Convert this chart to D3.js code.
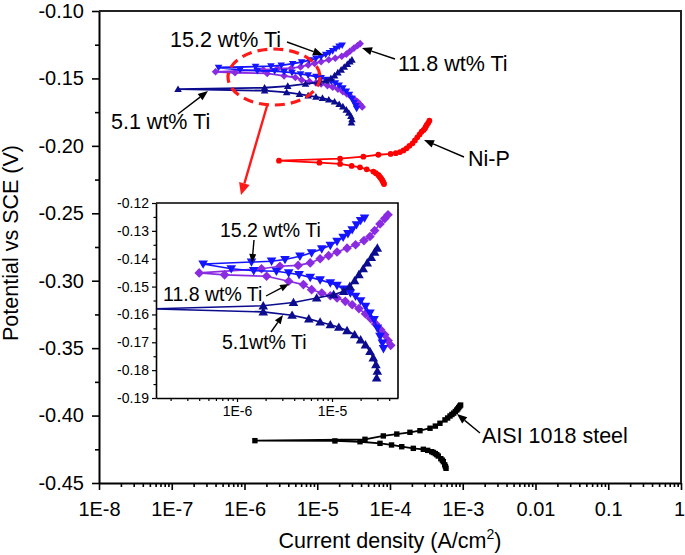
<!DOCTYPE html>
<html><head><meta charset="utf-8">
<script src="https://cdn.jsdelivr.net/npm/d3@7"></script>
<style>
body{margin:0;background:#fff;}
svg{display:block;}
text{font-family:"Liberation Sans",Arial,sans-serif;fill:#000;}
</style>
</head><body>
<svg id="chart" width="685" height="555"></svg>
<script>
// ---------- DATA ----------
// Tick labels
const xTickValues = [1e-8,1e-7,1e-6,1e-5,1e-4,1e-3,0.01,0.1,1];
const xTickLabels = ["1E-8","1E-7","1E-6","1E-5","1E-4","1E-3","0.01","0.1","1"];
const yTickValues = [-0.45,-0.40,-0.35,-0.30,-0.25,-0.20,-0.15,-0.10];
const insetXTickValues = [1e-6,1e-5];
const insetXTickLabels = ["1E-6","1E-5"];
const insetYTickValues = [-0.19,-0.18,-0.17,-0.16,-0.15,-0.14,-0.13,-0.12];

// 5.1 wt% Ti (cathodic end -> Ecorr -> anodic end)
const ti51Current = [2.95e-5,3.00e-5,2.90e-5,2.72e-5,2.51e-5,2.25e-5,2.00e-5,1.73e-5,1.44e-5,1.18e-5,9.6e-6,7.5e-6,5.7e-6,3.8e-6,1.89e-6,
  1.22e-7,
  1.89e-6,3.93e-6,6.9e-6,1.04e-5,1.33e-5,1.54e-5,1.73e-5,1.92e-5,2.13e-5,2.35e-5,2.59e-5,2.81e-5,3.00e-5];
const ti51Potential = [-0.1828,-0.1804,-0.1780,-0.1756,-0.1733,-0.1709,-0.1691,-0.1673,-0.1658,-0.1646,-0.1637,-0.1627,-0.1616,-0.1603,-0.1591,
  -0.1580,
  -0.1569,-0.1557,-0.1541,-0.1529,-0.1517,-0.1499,-0.1479,-0.1457,-0.1436,-0.1415,-0.1395,-0.1376,-0.1362];

// 11.8 wt% Ti
const ti118Current = [4.15e-5,3.89e-5,3.59e-5,3.25e-5,2.88e-5,2.55e-5,2.25e-5,1.92e-5,1.63e-5,1.38e-5,1.13e-5,9.6e-6,7.8e-6,6.1e-6,5.0e-6,3.5e-6,2.05e-6,7.4e-7,
  4.0e-7,
  1.81e-6,2.83e-6,4.4e-6,5.9e-6,7.5e-6,9.2e-6,1.13e-5,1.44e-5,1.77e-5,2.17e-5,2.51e-5,2.81e-5,3.20e-5,3.59e-5,3.89e-5];
const ti118Potential = [-0.1711,-0.1694,-0.1673,-0.1655,-0.1634,-0.1615,-0.1598,-0.1579,-0.1565,-0.1553,-0.1541,-0.1533,-0.1523,-0.1511,-0.1493,-0.1481,-0.1463,-0.1458,
  -0.1451,
  -0.1436,-0.1427,-0.1424,-0.1415,-0.1400,-0.1389,-0.1376,-0.1362,-0.1350,-0.1335,-0.1320,-0.1299,-0.1275,-0.1256,-0.1242];

// 15.2 wt% Ti
const ti152Current = [3.48e-5,3.39e-5,3.20e-5,3.00e-5,2.77e-5,2.51e-5,2.25e-5,2.00e-5,1.77e-5,1.56e-5,1.33e-5,1.13e-5,9.6e-6,7.5e-6,5.9e-6,4.5e-6,3.5e-6,2.6e-6,1.5e-6,8.7e-7,
  4.4e-7,
  1.42e-6,2.31e-6,3.2e-6,4.6e-6,6.1e-6,7.8e-6,9.6e-6,1.13e-5,1.31e-5,1.47e-5,1.63e-5,1.81e-5,2.00e-5,2.20e-5];
const ti152Potential = [-0.1723,-0.1703,-0.1679,-0.1649,-0.1619,-0.1595,-0.1571,-0.1551,-0.1535,-0.1523,-0.1509,-0.1496,-0.1487,-0.1476,-0.1467,-0.1457,-0.1451,-0.1445,-0.1443,-0.1436,
  -0.1419,
  -0.1412,-0.1409,-0.1403,-0.1391,-0.1379,-0.1365,-0.1352,-0.1338,-0.1323,-0.1310,-0.1296,-0.1278,-0.1263,-0.1254];

// Ni-P
const niPCurrent = [8.28e-5,8.15e-5,8.0e-5,7.85e-5,7.69e-5,7.5e-5,7.3e-5,7.1e-5,6.92e-5,6.4e-5,5.90e-5,4.79e-5,3.87e-5,2.97e-5,2.06e-5,1.07e-5,
  2.98e-6,
  2.06e-5,4.30e-5,6.92e-5,1.02e-4,1.2e-4,1.37e-4,1.53e-4,1.69e-4,1.85e-4,2.04e-4,2.2e-4,2.37e-4,2.55e-4,2.72e-4,2.9e-4,3.03e-4,3.1e-4,3.2e-4,3.35e-4,3.48e-4];
const niPPotential = [-0.2283,-0.2274,-0.2265,-0.2256,-0.2248,-0.2240,-0.2232,-0.2224,-0.2216,-0.2203,-0.2191,-0.2174,-0.2159,-0.2149,-0.2134,-0.2125,
  -0.2110,
  -0.2095,-0.2080,-0.2066,-0.2060,-0.2054,-0.2046,-0.2034,-0.2018,-0.2000,-0.1981,-0.1960,-0.1937,-0.1915,-0.1895,-0.1882,-0.1870,-0.1858,-0.1845,-0.1830,-0.1813];

// AISI 1018 steel
const steelCurrent = [5.89e-4,5.78e-4,5.65e-4,5.41e-4,5.25e-4,5.0e-4,4.61e-4,4.4e-4,4.2e-4,3.95e-4,3.74e-4,3.3e-4,2.87e-4,2.09e-4,1.45e-4,1.05e-4,7.29e-5,3.87e-5,1.75e-5,
  1.39e-6,
  4.53e-5,8.09e-5,1.24e-4,1.88e-4,2.58e-4,3.55e-4,4.2e-4,4.86e-4,5.7e-4,6.2e-4,6.68e-4,7.1e-4,7.5e-4,7.9e-4,8.26e-4,8.55e-4,8.8e-4,9.1e-4,9.35e-4];
const steelPotential = [-0.4391,-0.4378,-0.4365,-0.4342,-0.4331,-0.4320,-0.4300,-0.4290,-0.4282,-0.4274,-0.4268,-0.4258,-0.4250,-0.4243,-0.4231,-0.4218,-0.4206,-0.4194,-0.4188,
  -0.4186,
  -0.4176,-0.4151,-0.4137,-0.4124,-0.4112,-0.4094,-0.4078,-0.4057,-0.4032,-0.4018,-0.4003,-0.3992,-0.3982,-0.3970,-0.3959,-0.3950,-0.3940,-0.3930,-0.3922];

// ---------- CHART ----------
const svg = d3.select("#chart");
svg.append("rect").attr("width",685).attr("height",555).attr("fill","#fff");

const M = {left:99, right:681, top:11, bottom:483};
const x = d3.scaleLog().domain([1e-8,1]).range([M.left,M.right]);
const y = d3.scaleLinear().domain([-0.45,-0.10]).range([M.bottom,M.top]);

const I = {left:156, right:398, top:203, bottom:398};
const xi = d3.scaleLog().domain([1.404e-7,4.95e-5]).range([I.left,I.right]);
const yi = d3.scaleLinear().domain([-0.19,-0.12]).range([I.bottom,I.top]);

function mk(cur,pot){ return cur.map((c,i)=>({c, p:pot[i]})); }
const series = [
  {name:"ni-p", data:mk(niPCurrent,niPPotential), color:"#ff0000", shape:"ci"},
  {name:"steel", data:mk(steelCurrent,steelPotential), color:"#000000", shape:"sq"},
  {name:"11.8", data:mk(ti118Current,ti118Potential), color:"#8a2be2", shape:"di"},
  {name:"15.2", data:mk(ti152Current,ti152Potential), color:"#1414ff", shape:"td"},
  {name:"5.1", data:mk(ti51Current,ti51Potential), color:"#0c0c8e", shape:"tu"}
];

function symPath(shape, r){
  switch(shape){
    case "tu": return `M0,${-r}L${r},${r*0.75}L${-r},${r*0.75}Z`;
    case "td": return `M0,${r}L${r},${-r*0.75}L${-r},${-r*0.75}Z`;
    case "di": return `M0,${-r}L${r},0L0,${r}L${-r},0Z`;
    case "sq": return `M${-r},${-r}h${2*r}v${2*r}h${-2*r}Z`;
    default: return d3.symbol(d3.symbolCircle, Math.PI*r*r)();
  }
}
const mainR = {tu:3.8, td:3.8, di:3.8, ci:2.9, sq:2.7};
const insetR = {tu:4.8, td:4.8, di:4.8};

function drawSeries(g, s, xs, ys, r, lw){
  const line = d3.line().x(d=>xs(d.c)).y(d=>ys(d.p));
  g.append("path").datum(s.data).attr("d",line)
    .attr("fill","none").attr("stroke",s.color).attr("stroke-width",lw);
  g.selectAll(null).data(s.data).enter().append("path")
    .attr("d",symPath(s.shape,r))
    .attr("transform",d=>`translate(${xs(d.c)},${ys(d.p)})`)
    .attr("fill",s.color);
}

// main data
const gMain = svg.append("g");
series.forEach(s=>drawSeries(gMain, s, x, y, mainR[s.shape], 1.8));

// main axes
const fontTick = 20;
const xAxis = svg.append("g").attr("transform",`translate(0,${M.bottom})`)
  .call(d3.axisBottom(x).tickValues(xTickValues).tickFormat((d,i)=>xTickLabels[i]).tickSize(7).tickSizeOuter(0).tickPadding(12));
xAxis.selectAll(".tick text").filter((d,i)=>i===xTickValues.length-1).attr("dx",-2);
const xMinor = [];
for(let e=-8;e<0;e++) for(let k=2;k<=9;k++) xMinor.push(k*Math.pow(10,e));
svg.append("g").attr("transform",`translate(0,${M.bottom})`)
  .call(d3.axisBottom(x).tickValues(xMinor).tickFormat("").tickSize(4).tickSizeOuter(0))
  .call(g=>g.select(".domain").remove());

const yAxis = svg.append("g").attr("transform",`translate(${M.left},0)`)
  .call(d3.axisLeft(y).tickValues(yTickValues).tickFormat(d=>d.toFixed(2)).tickSize(7).tickSizeOuter(0).tickPadding(8));
const yMinor = yTickValues.slice(0,-1).map(v=>v+0.025);
svg.append("g").attr("transform",`translate(${M.left},0)`)
  .call(d3.axisLeft(y).tickValues(yMinor).tickFormat("").tickSize(4).tickSizeOuter(0))
  .call(g=>g.select(".domain").remove());

[xAxis,yAxis].forEach(a=>{
  a.selectAll("text").attr("font-size",fontTick).attr("font-family","Liberation Sans, Arial, sans-serif");
  a.select(".domain").attr("stroke-width",2);
});
svg.selectAll(".tick line").attr("stroke","#000").attr("stroke-width",1.6);
// frame
svg.append("path").attr("d",`M${M.left},${M.top}H${M.right}V${M.bottom}`)
  .attr("fill","none").attr("stroke","#222").attr("stroke-width",2);

// axis titles
svg.append("text").attr("transform","translate(18,243) rotate(-90)")
  .attr("text-anchor","middle").attr("font-size",21.5).text("Potential vs SCE (V)");
const xt = svg.append("text").attr("x",390).attr("y",548).attr("text-anchor","middle").attr("font-size",21.5);
xt.append("tspan").text("Current density (A/cm");
xt.append("tspan").attr("font-size",14).attr("dy",-9).text("2");
xt.append("tspan").attr("dy",9).text(")");

// arrows helper
function arrow(g, x1,y1,x2,y2, color, lw, hl, hw){
  const a = Math.atan2(y2-y1,x2-x1);
  const bx = x2 - hl*Math.cos(a), by = y2 - hl*Math.sin(a);
  g.append("line").attr("x1",x1).attr("y1",y1).attr("x2",bx).attr("y2",by)
    .attr("stroke",color).attr("stroke-width",lw);
  const px = -Math.sin(a)*hw, py = Math.cos(a)*hw;
  g.append("path").attr("d",`M${x2},${y2}L${bx+px},${by+py}L${bx-px},${by-py}Z`).attr("fill",color);
}

// main annotations
const gA = svg.append("g");
const annFont = 21.5;
gA.append("text").attr("x",170).attr("y",47).attr("font-size",annFont).text("15.2 wt% Ti");
arrow(gA,287,42,323,55,"#000",1.4,10,4);
gA.append("text").attr("x",398).attr("y",71).attr("font-size",annFont).text("11.8 wt% Ti");
arrow(gA,395,59,362,48,"#000",1.4,10,4);
gA.append("text").attr("x",111).attr("y",129).attr("font-size",annFont).text("5.1 wt% Ti");
arrow(gA,178,114,208,91,"#000",1.4,10,4);
gA.append("text").attr("x",468).attr("y",166).attr("font-size",annFont).text("Ni-P");
arrow(gA,464,157,424,140,"#000",1.4,10,4);
gA.append("text").attr("x",482).attr("y",443).attr("font-size",annFont).text("AISI 1018 steel");
arrow(gA,480,433,457,414,"#000",1.4,10,4);

// red dashed ellipse + arrow
svg.append("ellipse").attr("cx",274).attr("cy",77).attr("rx",46).attr("ry",28)
  .attr("fill","none").attr("stroke","#ff1a1a").attr("stroke-width",3.2).attr("stroke-dasharray","10,6");
arrow(svg,267,106,241,195,"#ff1a1a",2.4,12,5.5);

// ---------- INSET ----------
const gI = svg.append("g");
gI.append("rect").attr("x",I.left).attr("y",I.top).attr("width",I.right-I.left).attr("height",I.bottom-I.top).attr("fill","#fff");
svg.append("defs").append("clipPath").attr("id","clipI").append("rect")
  .attr("x",I.left).attr("y",I.top).attr("width",I.right-I.left).attr("height",I.bottom-I.top);
const gID = gI.append("g").attr("clip-path","url(#clipI)");
series.filter(s=>s.shape==="di"||s.shape==="td"||s.shape==="tu")
  .forEach(s=>drawSeries(gID, s, xi, yi, insetR[s.shape], 1.6));

const ixAxis = gI.append("g").attr("transform",`translate(0,${I.bottom})`)
  .call(d3.axisBottom(xi).tickValues(insetXTickValues).tickFormat((d,i)=>insetXTickLabels[i]).tickSize(4).tickSizeOuter(0).tickPadding(4));
const ixMinor = [];
for(let e=-7;e<=-5;e++) for(let k=2;k<=9;k++){ const v=k*Math.pow(10,e); if(v>1.404e-7 && v<4.95e-5) ixMinor.push(v); }
gI.append("g").attr("transform",`translate(0,${I.bottom})`)
  .call(d3.axisBottom(xi).tickValues(ixMinor).tickFormat("").tickSize(3).tickSizeOuter(0))
  .call(g=>g.select(".domain").remove());
const iyAxis = gI.append("g").attr("transform",`translate(${I.left},0)`)
  .call(d3.axisLeft(yi).tickValues(insetYTickValues).tickFormat(d=>d.toFixed(2)).tickSize(4).tickSizeOuter(0).tickPadding(3));
gI.append("g").attr("transform",`translate(${I.left},0)`)
  .call(d3.axisLeft(yi).tickValues(insetYTickValues.slice(0,-1).map(v=>v+0.005)).tickFormat("").tickSize(2.5).tickSizeOuter(0))
  .call(g=>g.select(".domain").remove());
[ixAxis,iyAxis].forEach(a=>{
  a.selectAll("text").attr("font-size",14).attr("font-family","Liberation Sans, Arial, sans-serif");
  a.select(".domain").attr("stroke-width",1.6);
});
gI.selectAll(".tick line").attr("stroke","#000").attr("stroke-width",1.2);
gI.append("path").attr("d",`M${I.left},${I.top}H${I.right}V${I.bottom}`)
  .attr("fill","none").attr("stroke","#000").attr("stroke-width",1.6);

// inset annotations
const insFont = 19.5;
gI.append("text").attr("x",220).attr("y",237).attr("font-size",insFont).text("15.2 wt% Ti");
arrow(gI,254,240,252,263,"#000",1.4,9,3.5);
gI.append("text").attr("x",163).attr("y",301).attr("font-size",insFont).text("11.8 wt% Ti");
arrow(gI,266,296,289,284,"#000",1.4,9,3.5);
gI.append("text").attr("x",222).attr("y",349).attr("font-size",insFont).text("5.1wt% Ti");
arrow(gI,271,332,283,315,"#000",1.4,9,3.5);
</script>
</body></html>
